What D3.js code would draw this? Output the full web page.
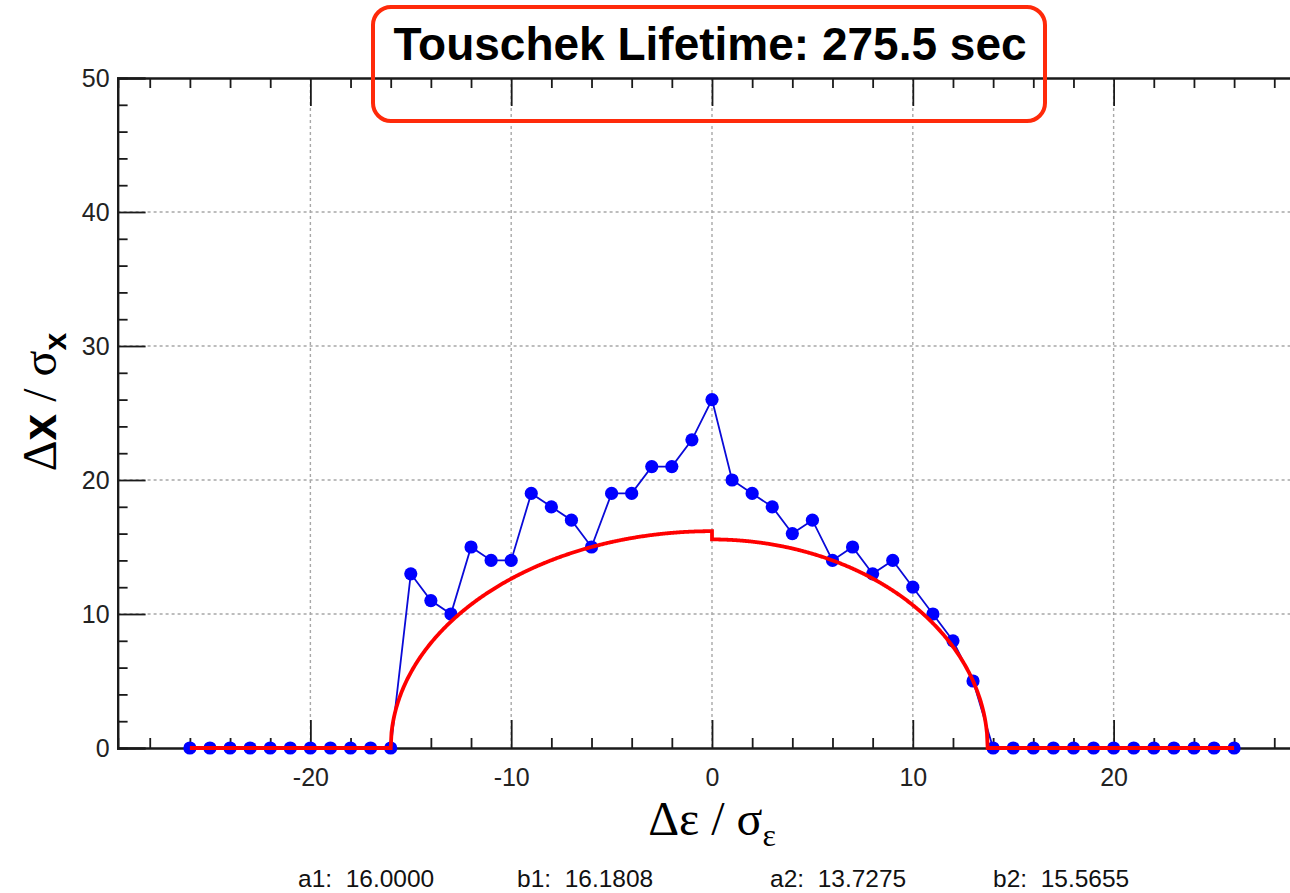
<!DOCTYPE html>
<html>
<head>
<meta charset="utf-8">
<script src="https://cdn.jsdelivr.net/npm/d3@7"></script>
<style>
  html, body { margin: 0; padding: 0; background: #fff; }
  svg { display: block; }
</style>
</head>
<body>
<svg id="chart" width="1290" height="893"></svg>
<script>
// Momentum offsets (Δε/σε) and measured aperture (Δx/σx)
const energyOffsets = d3.range(-26, 27);
const apertureValues = [
  0, 0, 0, 0, 0, 0, 0, 0, 0, 0, 0,          // -26 .. -16
  13, 11, 10, 15, 14, 14, 19, 18, 17, 15,    // -15 .. -6
  19, 19, 21, 21, 23, 26,                    // -5 .. 0
  20, 19, 18, 16, 17, 14, 15, 13, 14, 12,    // 1 .. 10
  10, 8, 5,                                  // 11 .. 13
  0, 0, 0, 0, 0, 0, 0, 0, 0, 0, 0, 0, 0      // 14 .. 26
];

// Elliptical fit parameters (negative side a1,b1; positive side a2,b2)
const fitNames = ["a1", "b1", "a2", "b2"];
const fitValues = [16.0000, 16.1808, 13.7275, 15.5655];

const xTicksMajor = [-20, -10, 0, 10, 20];
const yTicksMajor = [0, 10, 20, 30, 40, 50];
const titleText = "Touschek Lifetime: 275.5 sec";

const svg = d3.select("#chart");

const x = d3.scaleLinear().domain([-29.6, 29.6]).range([117.6, 1306.4]);
const y = d3.scaleLinear().domain([0, 50]).range([748, 78]);

const axisColor = "#1a1a1a";
const plainNum = d => String(d);

// grid
const grid = svg.append("g").attr("stroke", "#a8a8a8").attr("stroke-width", 1.4)
  .attr("stroke-dasharray", "3,3");
xTicksMajor.forEach(v => {
  grid.append("line").attr("x1", x(v)).attr("x2", x(v)).attr("y1", y(50)).attr("y2", y(0));
});
yTicksMajor.filter(v => v > 0 && v < 50).forEach(v => {
  grid.append("line").attr("x1", x(-29.6)).attr("x2", x(29.6)).attr("y1", y(v)).attr("y2", y(v));
});

// axes: bottom, top, left with inward ticks
const minorX = d3.range(-28, 30, 2).filter(v => !xTicksMajor.includes(v));
const minorY = d3.range(2, 50, 2).filter(v => !yTicksMajor.includes(v));

const bottomAxis = svg.append("g").attr("transform", `translate(0,${y(0)})`)
  .call(d3.axisBottom(x).tickValues(xTicksMajor).tickSize(-28).tickPadding(38).tickFormat(plainNum));
const bottomMinor = svg.append("g").attr("transform", `translate(0,${y(0)})`)
  .call(d3.axisBottom(x).tickValues(minorX).tickSize(-10).tickFormat(""));
const topAxis = svg.append("g").attr("transform", `translate(0,${y(50)})`)
  .call(d3.axisTop(x).tickValues(xTicksMajor).tickSize(-28).tickFormat(""));
const topMinor = svg.append("g").attr("transform", `translate(0,${y(50)})`)
  .call(d3.axisTop(x).tickValues(minorX).tickSize(-10).tickFormat(""));
const leftAxis = svg.append("g").attr("transform", `translate(${x(-29.6)},0)`)
  .call(d3.axisLeft(y).tickValues(yTicksMajor).tickSize(-28).tickPadding(8).tickFormat(plainNum));
const leftMinor = svg.append("g").attr("transform", `translate(${x(-29.6)},0)`)
  .call(d3.axisLeft(y).tickValues(minorY).tickSize(-10).tickFormat(""));

[bottomAxis, bottomMinor, topAxis, topMinor, leftAxis, leftMinor].forEach(g => {
  g.selectAll(".domain").attr("stroke", axisColor).attr("stroke-width", 2.2);
  g.selectAll(".tick line").attr("stroke", axisColor).attr("stroke-width", 1.8);
  g.selectAll(".tick text")
    .attr("fill", "#222")
    .attr("font-family", "'Liberation Sans', Arial, sans-serif")
    .attr("font-size", 25);
});
bottomAxis.selectAll(".tick text").attr("dy", "0");

// measured aperture: blue line with dots
const pts = energyOffsets.map((e, i) => [e, apertureValues[i]]);
svg.append("path")
  .datum(pts)
  .attr("fill", "none")
  .attr("stroke", "#0a0ad8")
  .attr("stroke-width", 1.8)
  .attr("d", d3.line().x(d => x(d[0])).y(d => y(d[1])));
svg.append("g").selectAll("circle")
  .data(pts).join("circle")
  .attr("cx", d => x(d[0]))
  .attr("cy", d => y(d[1]))
  .attr("r", 6.6)
  .attr("fill", "#0000ff");

// fitted half-ellipses, flat at zero outside the aperture
const [a1, b1, a2, b2] = fitValues;
const fit = [];
fit.push([energyOffsets[0], 0]);
d3.range(0, 401).forEach(k => {
  const e = -a1 + a1 * k / 400;
  fit.push([e, b1 * Math.sqrt(Math.max(0, 1 - (e / a1) ** 2))]);
});
d3.range(0, 401).forEach(k => {
  const e = a2 * k / 400;
  fit.push([e, b2 * Math.sqrt(Math.max(0, 1 - (e / a2) ** 2))]);
});
fit.push([energyOffsets[energyOffsets.length - 1], 0]);
svg.append("path")
  .datum(fit)
  .attr("fill", "none")
  .attr("stroke", "#ff0000")
  .attr("stroke-width", 3.8)
  .attr("stroke-linejoin", "miter")
  .attr("d", d3.line().x(d => x(d[0])).y(d => y(d[1])));

// title in rounded box
svg.append("rect")
  .attr("x", 373).attr("y", 7).attr("width", 672).attr("height", 114)
  .attr("rx", 18).attr("ry", 18)
  .attr("fill", "none").attr("stroke", "#ff2a0a").attr("stroke-width", 4);
svg.append("text")
  .attr("x", 710).attr("y", 60)
  .attr("text-anchor", "middle")
  .attr("font-family", "'Liberation Sans', Arial, sans-serif")
  .attr("font-weight", "bold")
  .attr("font-size", 46)
  .attr("fill", "#000")
  .text(titleText);

// y axis title: Δx / σx
const yTitle = svg.append("text")
  .attr("transform", "translate(56,402) rotate(-90)")
  .attr("text-anchor", "middle")
  .attr("font-size", 48)
  .attr("fill", "#000");
yTitle.append("tspan").attr("font-family", "'Liberation Serif', 'DejaVu Serif', serif").text("Δ");
yTitle.append("tspan").attr("font-family", "'Liberation Sans', Arial, sans-serif").attr("font-weight", "bold").text("x");
yTitle.append("tspan").attr("font-family", "'Liberation Serif', serif").text(" / σ");
yTitle.append("tspan").attr("font-family", "'Liberation Sans', Arial, sans-serif").attr("font-weight", "bold")
  .attr("font-size", 32).attr("dy", 10).text("x");

// x axis title: Δε / σε
const xTitle = svg.append("text")
  .attr("x", 712).attr("y", 835)
  .attr("text-anchor", "middle")
  .attr("font-family", "'Liberation Serif', 'DejaVu Serif', serif")
  .attr("font-size", 48)
  .attr("fill", "#000");
xTitle.append("tspan").text("Δε / σ");
xTitle.append("tspan").attr("font-size", 32).attr("dy", 11).text("ε");

// fit parameter readout
const paramX = [298, 517, 770, 993];
fitNames.forEach((n, i) => {
  svg.append("text")
    .attr("x", paramX[i]).attr("y", 887)
    .attr("font-family", "'Liberation Sans', Arial, sans-serif")
    .attr("font-size", 24.5)
    .attr("fill", "#111")
    .attr("xml:space", "preserve")
    .text(`${n}:  ${fitValues[i].toFixed(4)}`);
});
</script>
</body>
</html>
